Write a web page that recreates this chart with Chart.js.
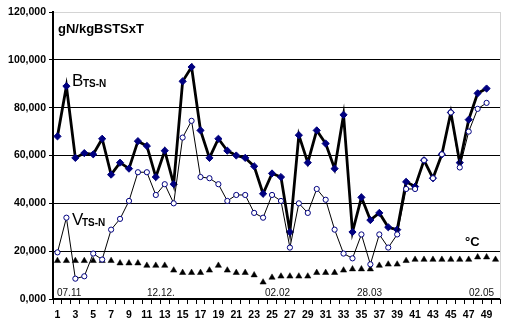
<!DOCTYPE html>
<html>
<head>
<meta charset="utf-8">
<script src="https://cdn.jsdelivr.net/npm/chart.js@4.4.0/dist/chart.umd.min.js"></script>
<style>
  html, body { margin: 0; padding: 0; background: #fff; }
  #wrap { width: 512px; height: 328px; }
</style>
</head>
<body>
<div id="wrap"><canvas id="chart" width="512" height="328"></canvas></div>
<script>
const weeks = [
  "1", "2", "3", "4", "5", "6", "7", "8", "9", "10",
  "11", "12", "13", "14", "15", "16", "17", "18", "19", "20",
  "21", "22", "23", "24", "25", "26", "27", "28", "29", "30",
  "31", "32", "33", "34", "35", "36", "37", "38", "39", "40",
  "41", "42", "43", "44", "45", "46", "47", "48", "49", "50"
];

// B TS-N load, gN/kgBSTSxT
const bTsN = [
  68000, 89000, 59000, 61000, 60500, 67000, 52000, 57000, 54500, 66000,
  64000, 51000, 62000, 48000, 91000, 97000, 70500, 59000, 67000, 62000,
  60000, 59000, 55500, 44000, 52500, 51000, 28000, 68500, 57000, 70500,
  65000, 54500, 77000, 28000, 42500, 33000, 36000, 30000, 29000, 49000,
  47000, 58000, 50500, 60500, 78000, 57000, 75000, 86000, 88000
];

// V TS-N load, gN/kgBSTSxT
const vTsN = [
  19500, 34000, 8500, 9500, 19000, 16500, 29000, 33500, 41000, 53000,
  53000, 43500, 48000, 40000, 67500, 74500, 51000, 50500, 48000, 41000,
  43500, 43500, 36000, 34000, 43500, 41000, 21500, 40000, 36000, 46000,
  41500, 29000, 19000, 17000, 27000, 14500, 27000, 21500, 27000, 46000,
  46000, 58000, 50500, 60500, 78000, 55000, 70000, 79500, 82000
];

// temperature, °C (x1000 on the same axis)
const tempC = [
  16000, 16000, 16000, 16000, 16000, 16000, 16000, 15000, 15000, 15000,
  14000, 14000, 14000, 12000, 11000, 11000, 11000, 12000, 14000, 12000,
  11000, 11000, 10000, 7000, 9000, 9500, 9500, 9500, 9500, 11000,
  11000, 11000, 12000, 12500, 12500, 12500, 14000, 14500, 14500, 16000,
  16500, 16500, 16500, 16500, 16500, 16500, 16500, 17500, 17500, 16500
];

const dateMarks = ["07.11", "12.12.", "02.02", "28.03", "02.05"];

const FONT = '"Liberation Sans", Arial, sans-serif';

const fmtThousands = (v) => {
  if (v === 0) return "0,000";
  return v.toLocaleString("en-US");
};

// grey frame on the right side + all the free text inside the plot
const notes = {
  id: "notes",
  beforeDatasetsDraw(chart) {
    const { ctx, chartArea: a } = chart;
    ctx.save();
    ctx.strokeStyle = "#d4d4d4";
    ctx.lineWidth = 1;
    ctx.beginPath();
    ctx.moveTo(a.right + 0.5, a.top);
    ctx.lineTo(a.right + 0.5, a.bottom);
    ctx.stroke();
    ctx.restore();
  },
  afterDatasetsDraw(chart) {
    const { ctx } = chart;
    ctx.save();
    ctx.fillStyle = "#000";
    ctx.textBaseline = "alphabetic";
    ctx.textAlign = "left";

    ctx.font = "bold 13px " + FONT;
    ctx.fillText("gN/kgBSTSxT", 58, 33);

    ctx.font = "17px " + FONT;
    ctx.fillText("B", 72, 86);
    ctx.fillText("V", 72, 225);
    ctx.font = "bold 10px " + FONT;
    ctx.fillText("TS-N", 83, 87);
    ctx.fillText("TS-N", 82, 226);

    ctx.font = "bold 13px " + FONT;
    ctx.fillText("°C", 465, 246);

    ctx.font = "10px " + FONT;
    ctx.fillStyle = "#111";
    const xs = [57, 147, 265, 357, 469];
    dateMarks.forEach((d, i) => ctx.fillText(d, xs[i], 296));
    ctx.restore();
  }
};

const ctx = document.getElementById("chart");
const chart = new Chart(ctx, {
  type: "line",
  data: {
    labels: weeks,
    datasets: [
      {
        label: "V TS-N",
        data: vTsN,
        borderColor: "#000",
        borderWidth: 1,
        pointStyle: "circle",
        pointRadius: 2.6,
        pointBorderWidth: 1,
        pointBackgroundColor: "#fff",
        pointBorderColor: "#000080",
        tension: 0
      },
      {
        label: "B TS-N",
        data: bTsN,
        borderColor: "#000",
        borderWidth: 2.8,
        pointStyle: "rectRot",
        pointRadius: 3.6,
        pointBorderWidth: 1,
        pointBackgroundColor: "#000080",
        pointBorderColor: "#000080",
        tension: 0
      },
      {
        label: "°C",
        data: tempC,
        showLine: false,
        pointStyle: "triangle",
        pointRadius: 3.6,
        pointBorderWidth: 0.5,
        pointBackgroundColor: "#000",
        pointBorderColor: "#000"
      }
    ]
  },
  options: {
    responsive: false,
    animation: false,
    devicePixelRatio: 1,
    layout: { padding: { left: 6, right: 12, top: 12, bottom: 0 } },
    plugins: {
      legend: { display: false },
      title: { display: false },
      tooltip: { enabled: false }
    },
    scales: {
      x: {
        offset: true,
        grid: {
          offset: true,
          drawOnChartArea: false,
          drawTicks: true,
          tickLength: 5,
          color: "#000",
          lineWidth: 1
        },
        border: { color: "#000", width: 2 },
        ticks: {
          autoSkip: false,
          maxRotation: 0,
          padding: 5,
          color: "#000",
          font: { family: FONT, size: 10.5, weight: "bold" },
          callback: (v, i) => (i % 2 === 0 ? weeks[i] : "")
        },
        afterFit: (s) => { s.height = 29; }
      },
      y: {
        min: 0,
        max: 120000,
        ticks: {
          stepSize: 20000,
          padding: 3,
          color: "#000",
          font: { family: FONT, size: 10.5, weight: "bold" },
          callback: (v) => fmtThousands(v)
        },
        grid: {
          color: (c) => (c.tick && c.tick.value === 120000 ? "#d4d4d4" : "#000"),
          tickColor: "#000",
          tickLength: 4,
          lineWidth: 1
        },
        border: { color: "#000", width: 2 },
        afterFit: (s) => { s.width = 47; }
      }
    }
  },
  plugins: [notes]
});
chart.update();
</script>
</body>
</html>
